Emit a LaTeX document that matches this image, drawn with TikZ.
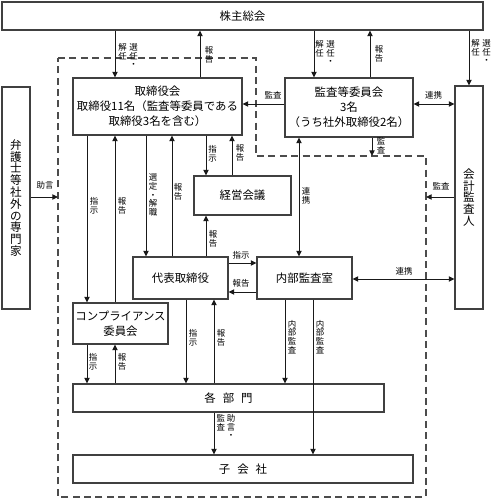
\documentclass[tikz,border=0pt]{standalone}
\usepackage{fontspec}
\setmainfont{Noto Sans CJK JP}
\usepackage{tikz}
\usetikzlibrary{arrows.meta}

\newcommand{\pw}{0.02cm}
\newcommand{\bigfont}{\fontsize{6.5}{8.5}\selectfont}
\newcommand{\colfont}{\fontsize{6.6}{6.7}\selectfont}
\newcommand{\labfont}{\fontsize{4.8}{4.9}\selectfont}

\begin{document}
\begin{tikzpicture}[x=0.02cm, y=-0.02cm,
  box/.style={draw=black!75, line width=0.7pt, inner sep=0pt, font=\bigfont, align=center},
  arr/.style={-{Triangle[length=3.2pt,width=3pt]}, black!90, line width=0.5pt},
  darr/.style={{Triangle[length=3.2pt,width=3pt]}-{Triangle[length=3.2pt,width=3pt]}, black!90, line width=0.5pt},
  lab/.style={font=\labfont, inner sep=0pt, align=center},
  region/.style={dash pattern=on 4pt off 2.5pt, black!70, line width=0.6pt}]
  \useasboundingbox (0,0) rectangle (500,499);

  % company area
  \draw[region] (58,58) -- (256,58) -- (256,156) -- (426,156) -- (426,497) -- (58,497) -- cycle;
  \coordinate (dl) at (58,197);
  \coordinate (dr) at (426,197);
  \coordinate (dt) at (372,156);

  \node[box, minimum width=481*\pw, minimum height=28*\pw] (gm) at (242.5,16) {株主総会};
  \node[box, minimum width=169*\pw, minimum height=57*\pw] (board) at (157.5,106.5) {取締役会\\取締役11名（監査等委員である\\取締役3名を含む）};
  \node[box, minimum width=128*\pw, minimum height=59*\pw] (acb) at (349,107.5) {監査等委員会\\3名\\（うち社外取締役2名）};
  \node[box, font=\colfont, minimum width=28*\pw, minimum height=223*\pw] (auditor) at (469,197.5) {会\\計\\監\\査\\人};
  \node[box, font=\colfont, minimum width=28*\pw, minimum height=222*\pw] (lawyer) at (16,198) {弁\\護\\士\\等\\社\\外\\の\\専\\門\\家};
  \node[box, minimum width=97*\pw, minimum height=39*\pw] (mgmt) at (242.5,195.5) {経営会議};
  \node[box, minimum width=95*\pw, minimum height=42*\pw] (ceo) at (180.5,278) {代表取締役};
  \node[box, minimum width=95*\pw, minimum height=42*\pw] (ia) at (304.5,278) {内部監査室};
  \node[box, minimum width=95*\pw, minimum height=41*\pw] (comp) at (120.5,323.5) {コンプライアンス\\委員会};
  \node[box, minimum width=311*\pw, minimum height=28*\pw] (dept) at (228.5,398) {各\hspace{4pt}部\hspace{4pt}門};
  \node[box, minimum width=340*\pw, minimum height=28*\pw] (sub) at (243,469) {子\hspace{4pt}会\hspace{4pt}社};

  % shareholders meeting
  \draw[arr] (gm.south -| 115,0) -- (board.north -| 115,0);
  \draw[arr] (board.north -| 200,0) -- (gm.south -| 200,0);
  \draw[arr] (gm.south -| 314,0) -- (acb.north -| 314,0);
  \draw[arr] (acb.north -| 370,0) -- (gm.south -| 370,0);
  \draw[arr] (gm.south -| auditor.north) -- (auditor.north);

  % audit committee
  \draw[arr] (acb.west |- 0,104) -- (board.east |- 0,104);
  \draw[darr] (acb.east |- 0,104) -- (auditor.west |- 0,104);
  \draw[arr] (acb.south -| dt) -- (dt);
  \draw[darr] (acb.south -| 299,0) -- (ia.north -| 299,0);
  \draw[arr] (auditor.west |- dr) -- (dr);
  \draw[darr] (ia.east |- 0,279) -- (auditor.west |- 0,279);
  \draw[arr] (lawyer.east |- dl) -- (dl);

  % board
  \draw[arr] (board.south -| 206,0) -- (mgmt.north -| 206,0);
  \draw[arr] (mgmt.north -| 232,0) -- (board.south -| 232,0);
  \draw[arr] (ceo.north -| 206,0) -- (mgmt.south -| 206,0);
  \draw[arr] (board.south -| 146,0) -- (ceo.north -| 146,0);
  \draw[arr] (ceo.north -| 172,0) -- (board.south -| 172,0);
  \draw[arr] (board.south -| 87,0) -- (comp.north -| 87,0);
  \draw[arr] (comp.north -| 115,0) -- (board.south -| 115,0);

  % representative director
  \draw[arr] (ceo.east |- 0,263) -- (ia.west |- 0,263);
  \draw[arr] (ia.west |- 0,292) -- (ceo.east |- 0,292);
  \draw[arr] (ceo.south -| 186,0) -- (dept.north -| 186,0);
  \draw[arr] (dept.north -| 214,0) -- (ceo.south -| 214,0);
  \draw[arr] (comp.south -| 87,0) -- (dept.north -| 87,0);
  \draw[arr] (dept.north -| 115,0) -- (comp.south -| 115,0);
  \draw[arr] (ia.south -| 285,0) -- (dept.north -| 285,0);
  \draw[arr] (ia.south -| 313,0) -- (sub.north -| 313,0);
  \draw[arr] (dept.south -| 214,0) -- (sub.north -| 214,0);

  % labels
  \node[lab] (l-sel1) at (128,56) {解\hspace{1.5pt}選\\任\hspace{1.5pt}任\\\phantom{解}\hspace{1.5pt}・};
  \node[lab] (l-rep1) at (209,55) {報\\告};
  \node[lab] (l-sel2) at (325,53) {解\hspace{1.5pt}選\\任\hspace{1.5pt}任\\\phantom{解}\hspace{1.5pt}・};
  \node[lab] (l-rep2) at (379,54) {報\\告};
  \node[lab] (l-sel3) at (481,52) {解\hspace{1.5pt}選\\任\hspace{1.5pt}任\\\phantom{解}\hspace{1.5pt}・};
  \node[lab] (l-aud1) at (273,95) {監査};
  \node[lab] (l-coop1) at (433.5,95) {連携};
  \node[lab] (l-aud2) at (381,146) {監\\査};
  \node[lab] (l-coop2) at (306,196) {連\\携};
  \node[lab] (l-aud3) at (441,186) {監査};
  \node[lab] (l-coop3) at (404,271) {連携};
  \node[lab] (l-adv) at (45,185) {助言};
  \node[lab] (l-ins1) at (212.5,154) {指\\示};
  \node[lab] (l-rep3) at (240,153) {報\\告};
  \node[lab] (l-rep4) at (213,239) {報\\告};
  \node[lab] (l-appt) at (153,195) {選\\定\\・\\解\\職};
  \node[lab] (l-rep5) at (178,192) {報\\告};
  \node[lab] (l-ins2) at (94,206) {指\\示};
  \node[lab] (l-rep6) at (122,206) {報\\告};
  \node[lab] (l-ins3) at (241,255) {指示};
  \node[lab] (l-rep7) at (241,283) {報告};
  \node[lab] (l-ins4) at (193,338) {指\\示};
  \node[lab] (l-rep8) at (221,338) {報\\告};
  \node[lab] (l-ins5) at (93,362) {指\\示};
  \node[lab] (l-rep9) at (122,362) {報\\告};
  \node[lab] (l-ia1) at (292,337) {内\\部\\監\\査};
  \node[lab] (l-ia2) at (320,337) {内\\部\\監\\査};
  \node[lab] (l-aud4) at (226,427) {監\hspace{1pt}助\\査\hspace{1pt}言\\\phantom{監}\hspace{1pt}・};
\end{tikzpicture}
\end{document}
